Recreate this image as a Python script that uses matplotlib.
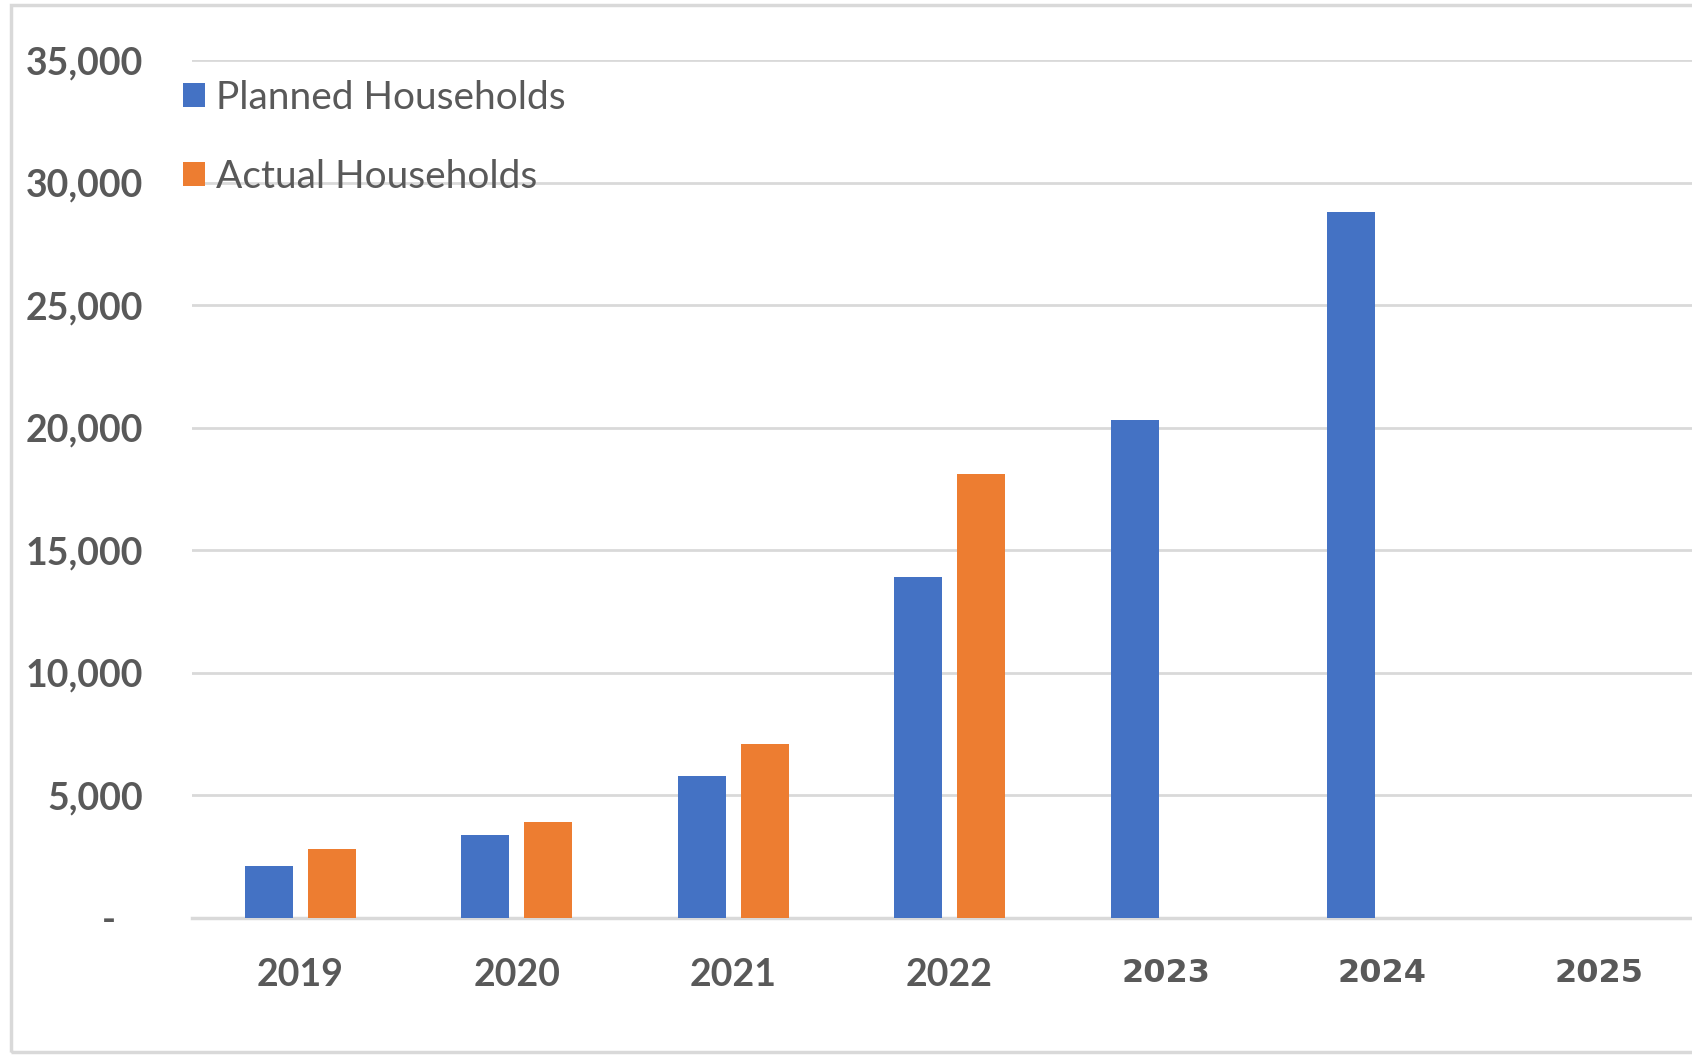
import numpy as np
import matplotlib
matplotlib.use('Agg')
from matplotlib import pyplot as plt
from matplotlib.patches import Rectangle

# Chart data
years = ['2019', '2020', '2021', '2022', '2023', '2024', '2025']
planned = [2100, 3400, 5800, 13900, 20300, 28800, np.nan]
actual = [2800, 3900, 7100, 18100, np.nan, np.nan, np.nan]
y_ticks = [0, 5000, 10000, 15000, 20000, 25000, 30000, 35000]
y_tick_labels = ['-   ', '5,000', '10,000', '15,000', '20,000', '25,000', '30,000', '35,000']

BLUE = '#4472C4'
ORANGE = '#ED7D31'
TEXT = '#595959'
GRID = '#D9D9D9'

fig = plt.figure(figsize=(16.92, 10.55), dpi=100)
ax = fig.add_axes([0.1135, 0.130, 0.8865, 0.813])

# outer chart frame
fig.patches.append(Rectangle((0.0065, 0.003), 1.2, 0.992, transform=fig.transFigure,
                             fill=False, edgecolor=GRID, linewidth=2.5))

x = np.arange(len(years))
width = 0.222
ax.bar(x - 0.145, planned, width, color=BLUE, label='Planned Households', zorder=3)
ax.bar(x + 0.145, actual, width, color=ORANGE, label='Actual Households', zorder=3)

ax.set_xlim(-0.5, 6.43)
ax.set_ylim(0, 35000)
ax.set_yticks(y_ticks)
ax.set_yticklabels(y_tick_labels)
ax.set_xticks(x)
ax.set_xticklabels(years)

ax.grid(axis='y', color=GRID, linewidth=2, zorder=0)
for s in ['top', 'right', 'left']:
    ax.spines[s].set_visible(False)
ax.spines['bottom'].set_color(GRID)
ax.spines['bottom'].set_linewidth(2.5)
ax.tick_params(axis='both', length=0)
ax.tick_params(axis='y', pad=35)
ax.tick_params(axis='x', pad=29)

for lbl in ax.get_yticklabels():
    lbl.set_fontfamily('Lato')
    lbl.set_fontweight('bold')
    lbl.set_fontsize(27)
    lbl.set_color(TEXT)
for i, lbl in enumerate(ax.get_xticklabels()):
    lbl.set_color(TEXT)
    lbl.set_fontweight('bold')
    if i < 4:
        lbl.set_fontfamily('Lato')
        lbl.set_fontsize(27)
    else:
        lbl.set_fontfamily('DejaVu Sans')
        lbl.set_fontsize(23)

leg = ax.legend(loc='upper left', bbox_to_anchor=(-0.006, 0.977), frameon=False,
                borderpad=0, borderaxespad=0, handlelength=0.56, handleheight=0.56,
                handletextpad=0.3, labelspacing=1.1,
                prop={'family': 'Lato', 'size': 28})
for t in leg.get_texts():
    t.set_color(TEXT)

fig.savefig('out.png', dpi=100)
